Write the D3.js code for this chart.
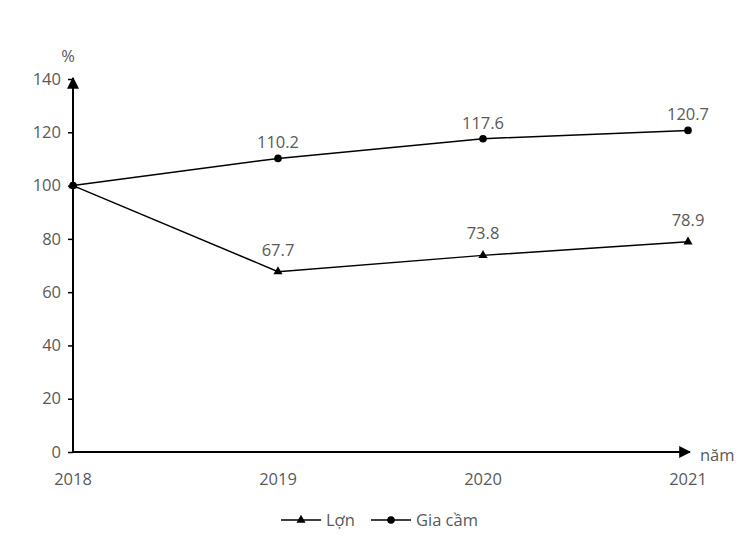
<!DOCTYPE html>
<html>
<head>
<meta charset="utf-8">
<script src="https://cdn.jsdelivr.net/npm/d3@7"></script>
<style>
  body { margin: 0; background: #fff; }
  text { font-family: "Open Sans", "Liberation Sans", sans-serif; fill: #595959; font-size: 16.5px; }
</style>
</head>
<body>
<div id="mount"></div>
<script>
var years = ['2018', '2019', '2020', '2021'];
var lon = [100, 67.7, 73.8, 78.9];
var giaCam = [100, 110.2, 117.6, 120.7];
var yTicks = [0, 20, 40, 60, 80, 100, 120, 140];
var seriesNames = ['Lợn', 'Gia cầm'];

var width = 751, height = 550;
var svg = d3.select('#mount').append('svg')
  .attr('width', width)
  .attr('height', height);

var x = d3.scalePoint().domain(years).range([73, 688]);
var y = d3.scaleLinear().domain([0, 140]).range([452, 79]);

var defs = svg.append('defs');
defs.append('marker')
  .attr('id', 'arrow')
  .attr('viewBox', '0 0 10 10')
  .attr('refX', 9).attr('refY', 5)
  .attr('markerWidth', 6).attr('markerHeight', 6)
  .attr('markerUnits', 'strokeWidth')
  .attr('orient', 'auto')
  .append('path')
  .attr('d', 'M0,0L10,5L0,10Z')
  .attr('fill', '#000');

// y axis
var yAxis = svg.append('g')
  .attr('transform', 'translate(73,0)')
  .call(d3.axisLeft(y).tickValues(yTicks).tickSize(5).tickPadding(7));
yAxis.select('.domain').remove();
yAxis.selectAll('line').attr('stroke', '#000').attr('stroke-width', 1.5);
yAxis.selectAll('text').attr('fill', '#595959').style('font-size', '16.5px')
  .style('font-family', '"Open Sans", "Liberation Sans", sans-serif');

svg.append('line')
  .attr('x1', 73).attr('y1', y(0))
  .attr('x2', 73).attr('y2', y(140) - 1)
  .attr('stroke', '#000').attr('stroke-width', 2)
  .attr('marker-end', 'url(#arrow)');

svg.append('line')
  .attr('x1', 73).attr('y1', y(0))
  .attr('x2', 690).attr('y2', y(0))
  .attr('stroke', '#000').attr('stroke-width', 2)
  .attr('marker-end', 'url(#arrow)');

// x labels
svg.selectAll('.xlab').data(years).enter().append('text')
  .attr('x', function (d) { return x(d); })
  .attr('y', 485)
  .attr('text-anchor', 'middle')
  .text(function (d) { return d; });

svg.append('text').attr('x', 700).attr('y', 461).text('năm');
svg.append('text').attr('x', 68).attr('y', 62).attr('text-anchor', 'middle').text('%');

var line = d3.line()
  .x(function (d, i) { return x(years[i]); })
  .y(function (d) { return y(d); });

svg.append('path').datum(lon)
  .attr('d', line).attr('fill', 'none').attr('stroke', '#000').attr('stroke-width', 1.5);
svg.append('path').datum(giaCam)
  .attr('d', line).attr('fill', 'none').attr('stroke', '#000').attr('stroke-width', 1.5);

var tri = d3.symbol().type(d3.symbolTriangle).size(36);
svg.selectAll('.tri').data(lon).enter().append('path')
  .attr('d', tri)
  .attr('transform', function (d, i) { return 'translate(' + x(years[i]) + ',' + y(d) + ')'; })
  .attr('fill', '#000');

svg.selectAll('.dot').data(giaCam).enter().append('circle')
  .attr('cx', function (d, i) { return x(years[i]); })
  .attr('cy', function (d) { return y(d); })
  .attr('r', 3.8)
  .attr('fill', '#000');

// data labels (skip 2018)
svg.selectAll('.lbl1').data(lon.slice(1)).enter().append('text')
  .attr('x', function (d, i) { return x(years[i + 1]); })
  .attr('y', function (d) { return y(d) - 16; })
  .attr('text-anchor', 'middle')
  .text(function (d) { return d.toFixed(1); });

svg.selectAll('.lbl2').data(giaCam.slice(1)).enter().append('text')
  .attr('x', function (d, i) { return x(years[i + 1]); })
  .attr('y', function (d) { return y(d) - 10; })
  .attr('text-anchor', 'middle')
  .text(function (d) { return d.toFixed(1); });

// legend
var leg = svg.append('g');
leg.append('line').attr('x1', 281).attr('x2', 321).attr('y1', 520).attr('y2', 520).attr('stroke', '#000').attr('stroke-width', 1.5);
leg.append('path').attr('d', tri).attr('transform', 'translate(301,520)').attr('fill', '#000');
leg.append('text').attr('x', 326).attr('y', 526).text(seriesNames[0]);
leg.append('line').attr('x1', 371).attr('x2', 411).attr('y1', 520).attr('y2', 520).attr('stroke', '#000').attr('stroke-width', 1.5);
leg.append('circle').attr('cx', 391).attr('cy', 520).attr('r', 3.8).attr('fill', '#000');
leg.append('text').attr('x', 416).attr('y', 526).text(seriesNames[1]);
</script>
</body>
</html>
